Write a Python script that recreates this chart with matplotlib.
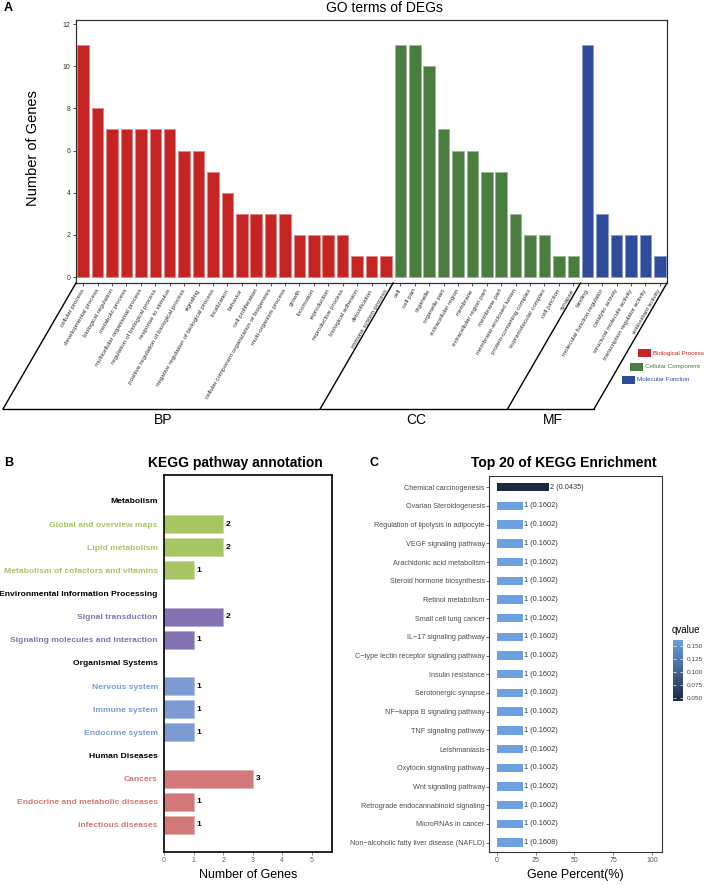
import numpy as np
import matplotlib
matplotlib.use('Agg')
import matplotlib.pyplot as plt
from matplotlib import transforms
from matplotlib.colors import LinearSegmentedColormap, Normalize, to_rgb
from matplotlib.lines import Line2D
from matplotlib.patches import Rectangle

plt.rcParams['font.family'] = ['Liberation Sans', 'DejaVu Sans']

# ---------------- panel A : GO terms ----------------
bp_terms = ['cellular process', 'developmental process', 'biological regulation',
            'metabolic process', 'multicellular organismal process',
            'regulation of biological process', 'response to stimulus',
            'positive regulation of biological process', 'signaling',
            'negative regulation of biological process', 'localization', 'behavior',
            'cell proliferation', 'cellular component organization or biogenesis',
            'multi-organism process', 'growth', 'locomotion', 'reproduction',
            'reproductive process', 'biological adhesion', 'detoxification',
            'immune system process']
bp_counts = [11, 8, 7, 7, 7, 7, 7, 6, 6, 5, 4, 3, 3, 3, 3, 2, 2, 2, 2, 1, 1, 1]

cc_terms = ['cell', 'cell part', 'organelle', 'organelle part', 'extracellular region',
            'membrane', 'extracellular region part', 'membrane part',
            'membrane-enclosed lumen', 'protein-containing complex',
            'supramolecular complex', 'cell junction', 'synapse']
cc_counts = [11, 11, 10, 7, 6, 6, 5, 5, 3, 2, 2, 1, 1]

mf_terms = ['binding', 'molecular function regulator', 'catalytic activity',
            'structural molecule activity', 'transcription regulator activity',
            'antioxidant activity']
mf_counts = [11, 3, 2, 2, 2, 1]

go_groups = ['BP', 'CC', 'MF']
go_names = ['Biological Process', 'Cellular Component', 'Molecular Function']
go_colors = ['#C62323', '#4A7D3F', '#2F4C9C']

# ---------------- panel B : KEGG annotation ----------------
kegg_classes = ['Metabolism', 'Environmental Information Processing',
                'Organismal Systems', 'Human Diseases']
met_paths = ['Global and overview maps', 'Lipid metabolism',
             'Metabolism of cofactors and vitamins']
met_counts = [2, 2, 1]
env_paths = ['Signal transduction', 'Signaling molecules and interaction']
env_counts = [2, 1]
org_paths = ['Nervous system', 'Immune system', 'Endocrine system']
org_counts = [1, 1, 1]
dis_paths = ['Cancers', 'Endocrine and metabolic diseases', 'Infectious diseases']
dis_counts = [3, 1, 1]
class_colors = ['#A8C563', '#8472B3', '#7D9AD3', '#D27878']

# ---------------- panel C : KEGG enrichment ----------------
enrich_terms = ['Chemical carcinogenesis', 'Ovarian Steroidogenesis',
                'Regulation of lipolysis in adipocyte', 'VEGF signaling pathway',
                'Arachidonic acid metabolism', 'Steroid hormone biosynthesis',
                'Retinol metabolism', 'Small cell lung cancer', 'IL\u221217 signaling pathway',
                'C\u2212type lectin receptor signaling pathway', 'Insulin resistance',
                'Serotonergic synapse', 'NF\u2212kappa B signaling pathway',
                'TNF signaling pathway', 'Leishmaniasis', 'Oxytocin signaling pathway',
                'Wnt signaling pathway', 'Retrograde endocannabinoid signaling',
                'MicroRNAs in cancer', 'Non\u2212alcoholic fatty liver disease (NAFLD)']
enrich_genes = [2] + [1] * 19
enrich_percent = [33.3] + [16.7] * 19
enrich_qvalue = [0.0435] + [0.1602] * 18 + [0.1608]

W, H = 708, 885


def fx(px):
    return px / W


def fy(py):
    return 1 - py / H


def lighten(c, amt):
    r, g, b = to_rgb(c)
    return (r + (1 - r) * amt, g + (1 - g) * amt, b + (1 - b) * amt)


fig = plt.figure(figsize=(W / 100, H / 100), dpi=100)

# ======================= A =======================
ax = fig.add_axes([fx(76), fy(283), fx(667) - fx(76), fy(20) - fy(283)])
terms = bp_terms + cc_terms + mf_terms
counts = bp_counts + cc_counts + mf_counts
sizes = [len(bp_terms), len(cc_terms), len(mf_terms)]
bar_cols = [go_colors[i] for i, n in enumerate(sizes) for _ in range(n)]
x = np.arange(len(terms))
ax.bar(x, counts, width=0.8, color=bar_cols,
       edgecolor=[lighten(c, 0.45) for c in bar_cols], linewidth=0.7)
ax.set_xlim(-0.5, len(terms) - 0.5)
ax.set_ylim(-0.28, 12.19)
ax.set_yticks(range(0, 13, 2))
ax.set_xticks(x)
ax.set_xticklabels(terms, rotation=60, ha='right', va='center',
                   rotation_mode='anchor', fontsize=4.5, color='#333333')
ax.tick_params(axis='x', length=2.5, width=0.6, pad=2, color='#333333')
ax.tick_params(axis='y', length=2, width=0.6, pad=2, labelsize=5, colors='#333333')
for s in ax.spines.values():
    s.set_color('#333333')
    s.set_linewidth(0.9)

fig.text(fx(4), fy(8), 'A', fontsize=9, fontweight='bold', va='center')
fig.text(fx(384), fy(8), 'GO terms of DEGs', fontsize=10, ha='center', va='center')
fig.text(fx(33), fy(148), 'Number of Genes', fontsize=10.5, rotation=90,
         ha='center', va='center')

# slanted group brackets under the axis
blend = transforms.blended_transform_factory(ax.transData, ax.transAxes)
to_fig = fig.transFigure.inverted()
edges = np.concatenate([[0], np.cumsum(sizes)]) - 0.5
drop = np.array([-73 / W, -126 / H])
tops = [to_fig.transform(blend.transform((e, 0))) for e in edges]
bots = [t + drop for t in tops]
for t, b in zip(tops, bots):
    fig.add_artist(Line2D([t[0], b[0]], [t[1], b[1]], color='black', lw=1))
fig.add_artist(Line2D([bots[0][0], bots[-1][0]], [bots[0][1], bots[0][1]],
                      color='black', lw=1))
for i, g in enumerate(go_groups):
    gx = (bots[i][0] + bots[i + 1][0]) / 2 + 2 / W
    fig.text(gx, bots[0][1] - 11 / H, g, fontsize=10, ha='center', va='center')

# legend, staggered along the slant
leg_y = [353, 366.5, 379.5]
leg_right = [651, 643, 635]
for name, col, ly, lr in zip(go_names, go_colors, leg_y, leg_right):
    fig.add_artist(Rectangle((fx(lr - 13), fy(ly + 4)), 13 / W, 8 / H,
                             transform=fig.transFigure, facecolor=col,
                             edgecolor='none'))
    fig.text(fx(lr + 2), fy(ly), name, fontsize=4.5, color=col, va='center')

# ======================= B =======================
axb = fig.add_axes([fx(164), fy(852), fx(332) - fx(164), fy(475) - fy(852)])
group_paths = [met_paths, env_paths, org_paths, dis_paths]
group_counts = [met_counts, env_counts, org_counts, dis_counts]
ypos, ylabels, ycolors = [], [], []
slot = 0
for cls, paths, vals, col in zip(kegg_classes, group_paths, group_counts, class_colors):
    ypos.append(slot)
    ylabels.append(cls)
    ycolors.append('black')
    slot += 1
    for p, v in zip(paths, vals):
        axb.barh(slot, v, height=0.78, color=col, edgecolor=lighten(col, 0.4),
                 linewidth=0.6)
        axb.text(v + 0.1, slot, str(v), fontsize=6, fontweight='bold',
                 va='center', ha='left')
        ypos.append(slot)
        ylabels.append(p)
        ycolors.append(col)
        slot += 1
axb.set_ylim(slot - 1 + 1.17, -1.12)
axb.set_xlim(0, 5.68)
axb.set_yticks(ypos)
axb.set_yticklabels(ylabels, fontsize=6.1, fontweight='bold')
for lab, c in zip(axb.get_yticklabels(), ycolors):
    lab.set_color(c)
axb.tick_params(axis='y', length=0, pad=4.5)
axb.set_xticks(range(6))
axb.tick_params(axis='x', length=2, width=0.5, labelsize=5, colors='#666666', pad=1.5)
for s in axb.spines.values():
    s.set_color('black')
    s.set_linewidth(1.2)
axb.set_xlabel('Number of Genes', fontsize=9, labelpad=4)
fig.text(fx(4), fy(463), 'B', fontsize=9, fontweight='bold', va='center')
fig.text(fx(235), fy(463), 'KEGG pathway annotation', fontsize=10,
         fontweight='bold', ha='center', va='center')

# ======================= C =======================
axc = fig.add_axes([fx(489), fy(852), fx(662) - fx(489), fy(476) - fy(852)])
cmap = LinearSegmentedColormap.from_list('q', ['#1B2943', '#6CA0DF'])
norm = Normalize(vmin=min(enrich_qvalue), vmax=max(enrich_qvalue))
yc = np.arange(len(enrich_terms))
axc.barh(yc, enrich_percent, height=0.45, color=cmap(norm(enrich_qvalue)))
for yi, p, g, q in zip(yc, enrich_percent, enrich_genes, enrich_qvalue):
    axc.text(p + 1, yi, '%d (%.4f)' % (g, q), fontsize=5.3, color='#333333',
             va='center', ha='left')
axc.set_xlim(-5.2, 106.5)
axc.set_ylim(len(enrich_terms) - 0.5, -0.6)
axc.set_yticks(yc)
axc.set_yticklabels(enrich_terms, fontsize=5.2, color='#4D4D4D')
axc.set_xticks([0, 25, 50, 75, 100])
axc.tick_params(axis='y', length=2, width=0.5, pad=1, color='#333333')
axc.tick_params(axis='x', length=2, width=0.5, labelsize=5, colors='#555555', pad=1.5)
for s in axc.spines.values():
    s.set_color('#333333')
    s.set_linewidth(0.8)
axc.set_xlabel('Gene Percent(%)', fontsize=9, labelpad=4)
fig.text(fx(370), fy(463), 'C', fontsize=9, fontweight='bold', va='center')
fig.text(fx(564), fy(463), 'Top 20 of KEGG Enrichment', fontsize=10,
         fontweight='bold', ha='center', va='center')

# colour bar
cax = fig.add_axes([fx(673), fy(701), 10 / W, 61 / H])
sm = plt.cm.ScalarMappable(norm=norm, cmap=cmap)
cb = fig.colorbar(sm, cax=cax)
cb.outline.set_visible(False)
cb.set_ticks([0.05, 0.075, 0.1, 0.125, 0.15])
cb.set_ticklabels(['0.050', '0.075', '0.100', '0.125', '0.150'])
cax.yaxis.set_ticks_position('both')
cax.tick_params(axis='y', direction='in', length=2, width=0.5, color='white',
                labelsize=4.6, labelcolor='#444444', pad=3, labelleft=False,
                labelright=True)
fig.text(fx(672), fy(630), 'qvalue', fontsize=7, va='center', ha='left')

fig.savefig('out.png', dpi=100)
